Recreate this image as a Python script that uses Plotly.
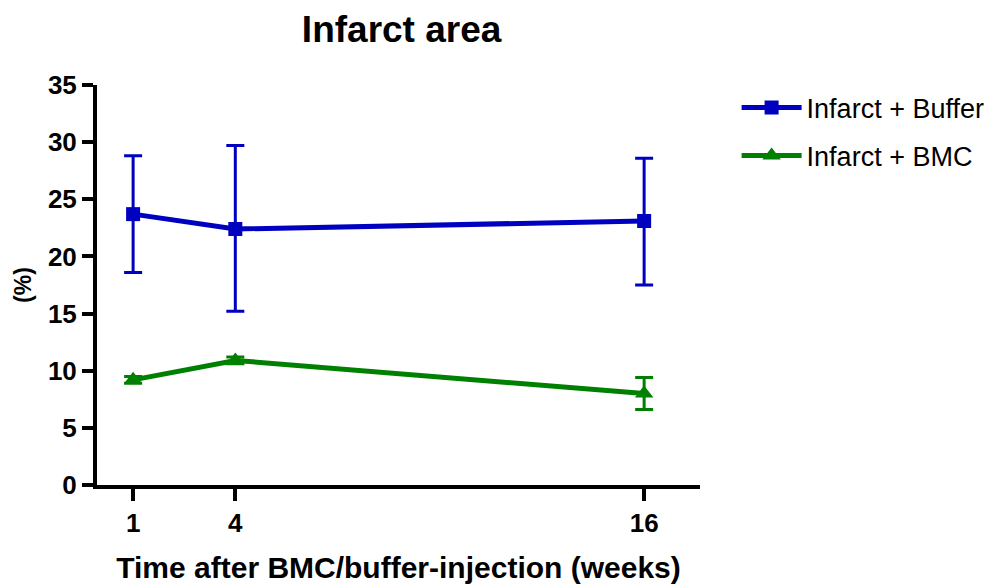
import plotly.graph_objects as go

weeks = [1, 4, 16]
buffer_mean = [23.7, 22.4, 23.1]
buffer_err_plus = [5.1, 7.3, 5.5]
buffer_err_minus = [5.1, 7.2, 5.6]
bmc_mean = [9.2, 10.9, 8.0]
bmc_err_plus = [0.3, 0.3, 1.4]
bmc_err_minus = [0.3, 0.3, 1.4]
x_ticks = [1, 4, 16]
y_ticks = [0, 5, 10, 15, 20, 25, 30, 35]

BLUE = "#0000C0"
GREEN = "#008000"
FONT = "Liberation Sans, Arial, sans-serif"

fig = go.Figure()
fig.add_trace(go.Scatter(
    x=weeks, y=buffer_mean, name="Infarct + Buffer", mode="lines+markers",
    line=dict(color=BLUE, width=5),
    marker=dict(symbol="square", size=14, color=BLUE),
    error_y=dict(type="data", symmetric=False, array=buffer_err_plus,
                 arrayminus=buffer_err_minus, color=BLUE, thickness=3, width=9),
    legendgroup="a",
))
fig.add_trace(go.Scatter(
    x=weeks, y=bmc_mean, name="Infarct + BMC", mode="lines+markers",
    line=dict(color=GREEN, width=5),
    marker=dict(symbol="triangle-up", size=16, color=GREEN),
    error_y=dict(type="data", symmetric=False, array=bmc_err_plus,
                 arrayminus=bmc_err_minus, color=GREEN, thickness=3, width=9),
    legendgroup="b",
))

fig.update_layout(
    width=994, height=584,
    margin=dict(l=89, r=302, t=77, b=107, autoexpand=False),
    paper_bgcolor="white", plot_bgcolor="white",
    font=dict(family=FONT, color="black"),
    title=dict(text="<b>Infarct area</b>", x=0.396, xanchor="center",
               y=0.964, yanchor="middle", font=dict(size=37, family=FONT)),
    showlegend=True,
    legend=dict(xref="container", yref="container", x=0.733, xanchor="left",
                y=0.871, yanchor="top",
                font=dict(size=27, family=FONT), tracegroupgap=10,
                itemwidth=60, bgcolor="rgba(0,0,0,0)"),
    xaxis=dict(range=[-0.06, 17.64], tickvals=x_ticks, ticktext=[str(t) for t in x_ticks],
               showline=True, linewidth=4, linecolor="black", mirror=False,
               ticks="outside", ticklen=12, tickwidth=4, tickcolor="black",
               showgrid=False, zeroline=False, automargin=False,
               tickfont=dict(size=26, family=FONT, weight="bold"),
               title=dict(text="<b>Time after BMC/buffer-injection (weeks)</b>",
                          font=dict(size=30, family=FONT), standoff=21)),
    yaxis=dict(range=[0, 35], tickvals=y_ticks,
               showline=True, linewidth=4, linecolor="black",
               ticks="outside", ticklen=11, tickwidth=4, tickcolor="black",
               showgrid=False, zeroline=False, automargin=False,
               tickfont=dict(size=26, family=FONT, weight="bold"),
               title=dict(text="<b>(%)</b>", font=dict(size=23, family=FONT), standoff=11)),
)

fig.write_html("out.html")
